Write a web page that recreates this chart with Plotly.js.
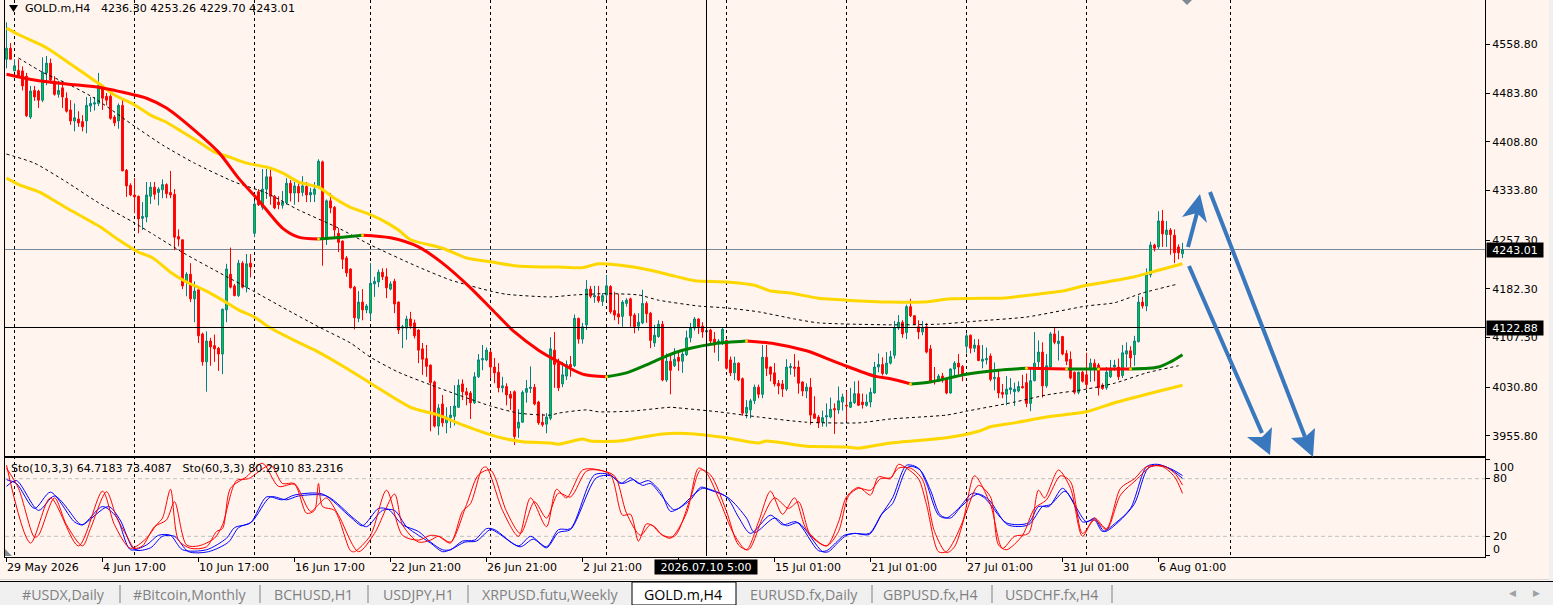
<!DOCTYPE html>
<html>
<head>
<meta charset="utf-8">
<script src="https://cdn.plot.ly/plotly-3.0.1.min.js"></script>
<style>
  html, body { margin: 0; padding: 0; background: #fff5ee; overflow: hidden; }
  #chart { width: 1553px; height: 605px; }
</style>
</head>
<body>
<div id="chart"></div>
<script>
const barOpen = [
  4536,4553,4518,4519,4518,4510,4447,4488,4487,4473,
  4515,4530,4502,4482,4492,4476,4458,4441,4444,4440,
  4441,4464,4467,4468,4495,4479,4479,4447,4441,4465,
  4365,4342,4327,4325,4291,4293,4325,4339,4331,4335,
  4343,4331,4328,4263,4258,4193,4205,4167,4181,4113,
  4070,4102,4095,4091,4082,4150,4205,4187,4172,4222,
  4185,4222,4268,4332,4308,4336,4355,4325,4316,4311,
  4315,4345,4330,4340,4331,4340,4327,4328,4340,4378,
  4259,4318,4308,4268,4256,4230,4213,4185,4137,4162,
  4150,4145,4190,4193,4208,4201,4182,4194,4162,4122,
  4122,4136,4130,4119,4090,4075,4065,4039,3971,4005,
  3976,3984,3986,4000,4036,4024,4022,4007,4047,4073,
  4073,4085,4062,4054,4030,4032,4020,4024,3968,3977,
  4023,4029,4031,4008,3977,3974,3983,4088,4068,4036,
  4048,4066,4064,4137,4105,4127,4182,4170,4171,4163,
  4173,4186,4149,4144,4140,4160,4167,4142,4125,4130,
  4160,4145,4099,4109,4128,4042,4071,4064,4077,4071,
  4081,4107,4122,4136,4125,4116,4119,4105,4098,4099,
  4103,4073,4053,4068,4044,3991,3996,4010,4031,4020,
  4077,4062,4053,4037,4036,4028,4061,4062,4062,4039,
  4025,4031,3990,3985,3977,3985,3985,3998,3996,4008,
  4003,4000,4007,4021,4008,4003,4008,4022,4062,4066,
  4052,4068,4080,4122,4131,4115,4155,4141,4124,4116,
  4124,4090,4041,4040,4048,4044,4022,4059,4068,4063,
  4094,4111,4091,4095,4071,4073,4079,4044,4046,4023,
  4020,4027,4024,4025,4032,4038,4006,4041,4070,4085,
  4033,4062,4113,4098,4109,4083,4074,4054,4023,4054,
  4050,4060,4068,4065,4034,4030,4047,4062,4062,4049,
  4082,4087,4081,4101,4162,4156,4204,4250,4247,4287,
  4266,4273,4265,4247,4236.30
];
const barHigh = [
  4593,4561,4536,4536,4525,4515,4495,4495,4489,4539,
  4541,4537,4510,4503,4500,4485,4473,4468,4456,4450,
  4478,4478,4478,4515,4496,4484,4482,4450,4468,4476,
  4367,4345,4353,4326,4316,4347,4347,4347,4339,4351,
  4345,4364,4336,4274,4258,4208,4222,4194,4181,4115,
  4117,4107,4112,4093,4152,4221,4246,4190,4227,4225,
  4236,4236,4318,4336,4367,4367,4367,4327,4325,4333,
  4353,4350,4347,4345,4356,4347,4338,4347,4382,4380,
  4320,4330,4310,4276,4257,4233,4214,4187,4179,4182,
  4159,4222,4201,4212,4214,4214,4194,4198,4163,4127,
  4141,4147,4135,4120,4099,4096,4066,4041,4005,4019,
  4000,4002,4034,4043,4043,4030,4025,4054,4082,4096,
  4092,4088,4076,4068,4047,4037,4025,4026,3997,4026,
  4042,4063,4036,4010,3990,3991,4108,4116,4075,4070,
  4072,4079,4143,4138,4130,4196,4187,4187,4187,4176,
  4204,4188,4178,4175,4165,4168,4169,4145,4145,4181,
  4163,4147,4127,4134,4133,4083,4080,4091,4088,4085,
  4118,4130,4139,4137,4131,4122,4121,4116,4105,4122,
  4104,4078,4078,4069,4046,4011,4013,4035,4035,4096,
  4096,4063,4068,4042,4042,4074,4068,4082,4072,4040,
  4037,4045,4017,3988,3995,4006,4015,4006,4032,4021,
  4025,4030,4040,4041,4021,4020,4030,4070,4083,4077,
  4085,4087,4133,4142,4134,4158,4167,4142,4134,4133,
  4130,4096,4062,4051,4053,4045,4060,4071,4082,4065,
  4114,4112,4105,4105,4096,4092,4083,4069,4058,4036,
  4048,4045,4038,4040,4050,4052,4060,4116,4103,4100,
  4082,4116,4122,4118,4110,4088,4086,4055,4055,4056,
  4084,4075,4074,4068,4037,4062,4073,4073,4075,4096,
  4100,4094,4110,4172,4170,4214,4255,4252,4302,4304,
  4287,4276,4274,4251,4253.26
];
const barLow = [
  4522,4536,4518,4510,4488,4447,4444,4472,4461,4470,
  4496,4500,4480,4477,4461,4454,4435,4425,4432,4425,
  4422,4455,4457,4464,4458,4465,4443,4433,4429,4364,
  4324,4325,4299,4268,4273,4285,4313,4320,4311,4322,
  4322,4322,4242,4248,4182,4171,4162,4131,4099,4064,
  4024,4064,4070,4056,4051,4131,4183,4171,4170,4183,
  4177,4200,4262,4310,4304,4321,4312,4305,4305,4306,
  4312,4317,4312,4316,4325,4316,4316,4316,4336,4218,
  4250,4299,4262,4239,4213,4201,4183,4120,4131,4134,
  4145,4134,4170,4185,4196,4168,4180,4145,4113,4091,
  4104,4121,4106,4068,4050,4047,3963,3969,3957,3970,
  3960,3968,3972,3999,4011,4003,3982,4005,4045,4057,
  4071,4045,4037,4023,4023,4003,3996,3942,3953,3976,
  4007,4022,4003,3973,3970,3960,3980,4030,4025,4031,
  4042,4047,4062,4098,4098,4119,4168,4161,4161,4156,
  4165,4144,4134,4128,4124,4155,4124,4114,4118,4128,
  4130,4091,4093,4107,4040,4039,4020,4062,4056,4053,
  4079,4100,4118,4113,4107,4108,4096,4084,4071,4096,
  4058,4048,4042,4040,3987,3983,3983,4005,4014,4014,
  4048,4040,4032,4020,4016,4025,4050,4047,4021,4017,
  4014,3973,3982,3968,3970,3970,3983,3959,3990,3995,
  3979,3999,4005,4003,3998,4001,4000,4021,4054,4049,
  4050,4066,4075,4119,4107,4105,4139,4127,4105,4111,
  4083,4039,4035,4039,4038,4020,4021,4045,4047,4040,
  4083,4083,4085,4071,4060,4066,4040,4026,4014,4014,
  4003,4020,4002,4023,4029,4000,3994,4040,4060,4015,
  4030,4060,4097,4072,4080,4065,4043,4020,4020,4038,
  4028,4039,4040,4018,4027,4027,4045,4056,4042,4045,
  4062,4061,4064,4100,4152,4148,4200,4240,4244,4247,
  4247,4235,4222,4228,4229.70
];
const barClose = [
  4553,4536,4526,4510,4495,4449,4487,4478,4473,4516,
  4530,4504,4482,4488,4478,4456,4441,4446,4438,4432,
  4465,4468,4469,4496,4476,4473,4445,4438,4465,4364,
  4341,4327,4324,4290,4294,4327,4339,4328,4336,4343,
  4329,4327,4262,4259,4187,4205,4167,4179,4110,4070,
  4102,4093,4090,4082,4151,4213,4185,4172,4222,4185,
  4221,4216,4313,4312,4336,4355,4325,4307,4312,4316,
  4345,4330,4341,4330,4341,4327,4331,4336,4379,4259,
  4318,4307,4273,4254,4228,4207,4184,4138,4162,4150,
  4156,4191,4194,4208,4201,4184,4190,4159,4119,4124,
  4136,4125,4110,4088,4074,4063,4038,3971,3999,3976,
  3985,3988,4002,4034,4024,4019,4007,4047,4073,4075,
  4088,4062,4053,4030,4033,4019,4014,3955,3977,4023,
  4029,4031,4005,3976,3973,3985,4090,4066,4030,4050,
  4066,4062,4137,4105,4124,4182,4171,4172,4164,4172,
  4187,4147,4142,4139,4162,4165,4141,4124,4131,4160,
  4144,4103,4111,4128,4042,4071,4057,4074,4071,4082,
  4107,4122,4136,4124,4116,4118,4102,4096,4102,4120,
  4060,4053,4068,4042,3991,4000,4010,4031,4020,4077,
  4060,4051,4036,4033,4028,4062,4063,4060,4037,4025,
  4031,3988,3983,3976,3984,3987,3997,3996,4010,4016,
  4002,4008,4021,4003,4004,4008,4023,4062,4066,4052,
  4068,4078,4122,4131,4113,4155,4141,4128,4116,4122,
  4085,4040,4039,4048,4042,4022,4059,4068,4062,4051,
  4110,4091,4096,4072,4074,4075,4043,4046,4022,4020,
  4028,4030,4028,4032,4030,4006,4041,4068,4085,4033,
  4064,4113,4100,4102,4082,4071,4045,4023,4054,4040,
  4035,4068,4060,4030,4029,4054,4059,4065,4047,4084,
  4087,4076,4102,4162,4156,4205,4250,4245,4287,4267,
  4273,4266,4238,4238,4243.01
];

// envelope lines, x is the bar number
const upperBandBars = [0,3.4,8.4,11,15,19,23,27,32,36,40,44,48,52,56,60,65,69,73,78,82,86,90,94,98,101,109,115,121,127,136,138,144,148,153,161,167,172,180,187,191,196,203,210,221,229,236,245,249,256,264,270,275,282,288,294];
const upperBand = [4584,4573,4559,4550,4533,4516,4499,4481,4466,4450,4439,4424,4409,4393,4385,4376,4370,4361,4347,4339,4322,4308,4299,4288,4273,4258,4245,4230,4224,4218,4216,4216,4215,4221,4219,4211,4202,4195,4193,4188,4179,4176,4168,4165,4162,4162,4167,4168,4168,4173,4179,4188,4193,4201,4211,4221];
const lowerBandBars = [0,3.4,8,15,23.4,28,33,36.6,41,45,50,54,58,62,66,72.6,78,85,91,101,108,114,123,129,136,138,144,146,153,158,164,172,180,188,190,200,210,213,221,235,243,246,252,260,270,277,285,294];
const lowerBand = [4353,4342,4332,4307,4278,4258,4239,4230,4208,4193,4179,4165,4150,4139,4122,4101,4085,4060,4037,4000,3988,3973,3954,3947,3945,3943,3951,3948,3948,3953,3959,3959,3953,3945,3948,3940,3939,3937,3945,3953,3963,3970,3976,3985,3993,4007,4020,4034];
const upperDotBars = [3,9,15,22,32,39,47,57,65,73,83,91,103,111,121,125,136,142,150,158,163,173,180,188,197,203,221,233,243,255,270,277,284,293];
const upperDot = [4538,4516,4499,4476,4433,4404,4376,4347,4330,4304,4276,4250,4216,4196,4179,4174,4170,4173,4175,4173,4165,4156,4153,4147,4136,4130,4127,4128,4133,4139,4156,4161,4176,4190];
const lowerDotBars = [0,7,15,23,32,37,45,53,62,69,78,86,91,98,108,121,128,136,138,145,148,156,166,168,178,188,200,213,221,235,240,252,260,270,277,285,293];
const lowerDot = [4390,4376,4347,4315,4284,4265,4235,4208,4178,4154,4124,4099,4077,4054,4030,4002,3991,3988,3991,3996,3993,3994,4000,3999,3993,3985,3977,3976,3982,3988,3994,4008,4019,4028,4037,4053,4064];

// moving average, null splits the coloured stretches
const maRedBars = [0,7,15,23,32,35,40,46,53,58,63,69,73,78,null,89,96,103,109,116,121,127,133,138,144,150,null,185,192,200,208,217,221,226,null,255,265,null,273,281];
const maRed = [4513,4504,4498,4493,4481,4476,4461,4432,4393,4353,4319,4276,4262,4259,null,4265,4261,4247,4222,4184,4153,4116,4088,4070,4051,4047,null,4102,4098,4087,4068,4048,4044,4036,null,4060,4059,null,4059,4059];
const maGreenBars = [78,84,89,null,150,155,161,167,171,177,185,null,226,231,240,248,255,null,265,273,null,281,288,291,294];
const maGreen = [4259,4262,4265,null,4047,4053,4068,4084,4091,4098,4102,null,4036,4039,4051,4057,4060,null,4059,4059,null,4059,4062,4070,4081];
const maTurnBars = [78,89,150,185,226,255,265,273,281];
const maTurn = [4259,4265,4047,4102,4036,4060,4059,4059,4059];

// stochastic (10,3,3) main and signal
const stoFastMainBars = [0,6,11,18,24,27,31,35,37.5,39,41,43,46,50,52.5,54,56,60,64,68,72,75,77,78,79,82,86,87,91,95,99,103,106,108,111,114,116,119,120,124,128,131,135,137.5,140,144,147,151,154,156,158,160,162,163.5,166,170,173,175,178,182,185,188,191,194,197,200,205,208,210,213,216,218,221,223,225,228,230,233,235,239,242,246,249,252,255.5,258,259.5,263,266,269,272,275,278.5,282,285,289,292,294];
const stoFastMain = [94,13,60,10,67,32,7.5,18,32,39,69,16,7.5,9,25,28,70,82,96,72,74,44,47,75,51,47,5,4,21,68,21,16,21,20,13,46,54,91,92,47,20,60,30,69,60,89,90,84,42,43,15,33,30,23,18,44,91,86,60,21,6,35,67,43,60,27,10,35,61,71,63,82,80,95,91,80,53,4,4,35,83,53,7.5,20,23,68,60,89,70,20,39,28,70,80,92.5,92.5,82,64.72];
const stoFastSigBars = [0,3,7,8,12,15,19,21,25,27.5,30,32,34,37,40,42,45,48,52,54,57.5,60.5,66,69,72,76,78,80,83,88,92,97,99,103,106,108,111,115,118,121,125,128.5,132,135,138,141,145,148,152,155,158.5,161,164,167,171,173.5,176,180,183,185.5,189,192,195.5,198,201,205,208,210.5,213,216,218.5,221,223,226,229,232,235,237,240,243,246,248,250,254,257,260,263.5,266,269,272,275,278.5,282.5,286,289,292,294];
const stoFastSig = [91,70,19,21,60,32,10,28,66.5,40,21,7.5,10,30,37,56,11,10,18,32,78,80,94,75,75,46,53,60,42,4,23,64,32,14,16,20,14,53,84,89,46,23,56,39,65,61,88,89,83,44,21,32,21,20,60,89,84,46,11,6,39,60,49,56,21,10,25,62,70,68,80,81,91,91,79,25,3,9,46,73,61,11,6,21,49,58,83,77,23,37,27,63,79,92.5,93.5,86,73.41];
// stochastic (60,3,3) main and signal
const stoSlowMainBars = [0,2.5,7,11,17,19,24,27.5,31,35,38,41,44,50,55,57,61,65,69,72,79,86,89,93,95.5,99,103,106,109,111,114,117,120,122,128,131,135,138,141,147,151,153.5,156,158,160.5,163.5,166,168,171,173.5,175,180,183,186,191,194,197.5,203,205,208,209.4,212,215.7,218.6,221.5,225,228,230,233,235,238,241.6,244.5,250,255.5,258,260.6,264,266.4,269,272,274,277.3,281,285,287.7,290.6,294];
const stoSlowMain = [79,75,49,66,35,32,51,40,6,11,21,21,6,6,18,29,34,61,58,63,64,40,31,49,48,32,25,14,6,6,15,16,28,27,10,20,9,27,28,84,84,75,81,75,78,66.5,46,49,58,71,70,61,40,23,42,32,35,5,5,16,21,23,23,42,60,94,91,75,42,39,49,65,60,34,34,51,51,70,58,35,37,25,34,49,92.5,95,91,80.29];
const stoSlowSigBars = [0,2.5,8,12,18,19,25.5,28.4,32,36,39,42,45.5,50.5,55.5,58,61.3,66,70,73,80,87,90,94,97,100,103,106,109,111,114.6,117.5,121,123,128.4,131.7,135,138,141,147.5,151,154,156.7,159,161,164,166.7,168,171.7,174,176,180.5,185,187,192,195,198,204,205.5,208,210,212,215.7,219,221.5,225.5,228.4,231,233.5,236,238.7,242.8,245.6,250.3,255.5,259,261,264.6,267,270,272,274.5,278,282,285.4,288.3,291.7,294];
const stoSlowSig = [72,78,47,62,34,32,51,37,6,8,20,20,4,4,14,29,35,61,58,62,62,38,30,47,47,30,21,13,4,6,14,15,27,23,9,17,8,24,27,81,83,75,79,73,75,61,48,49,63,70,68,60,39,24,39,31,34,4,4,14,21,23,22,44,54,92.5,89,68,42,39,51,64,58,32,32,51,53,67,53,35,39,25,35,54,91,94,89,83.23];

const priceTicks = [4558.8,4483.8,4408.8,4333.8,4257.3,4182.3,4107.3,4030.8,3955.8];
const priceTickLabels = ['4558.80','4483.80','4408.80','4333.80','4257.30','4182.30','4107.30','4030.80','3955.80'];
const timeTicks = [0,24,48,72,96,120,144,168,192,216,240,264,288];
const timeLabels = ['29 May 2026','4 Jun 17:00','10 Jun 17:00','16 Jun 17:00','22 Jun 21:00','26 Jun 21:00','2 Jul 21:00','','15 Jul 01:00','21 Jul 01:00','27 Jul 01:00','31 Jul 01:00','6 Aug 01:00'];
const dayBreaks = [2,32,62,91,121,150,180,210,240,270,306];
const lastPrice = 4243.01;
const crossPrice = 4122.88;
const crossBar = 175;
const crossTime = '2026.07.10 5:00';
const stoLevels = [80,20];

const tabNames = ['#USDX,Daily','#Bitcoin,Monthly','BCHUSD,H1','USDJPY,H1','XRPUSD.futu,Weekly','GOLD.m,H4','EURUSD.fx,Daily','GBPUSD.fx,H4','USDCHF.fx,H4'];

const W = 1553;
const H = 605;
const px = (x) => x / W;
const py = (y) => 1 - y / H;
const uiFont = 'DejaVu Sans';

const barNumbers = barOpen.map((v, i) => i);

function linePx(x0, y0, x1, y1, color, width) {
  return {
    type: 'line', xref: 'paper', yref: 'paper', layer: 'above',
    x0: px(x0), y0: py(y0), x1: px(x1), y1: py(y1),
    line: { color, width },
  };
}

function polyPx(points, color) {
  const path = points.map((p, i) => `${i ? 'L' : 'M'}${px(p[0])},${py(p[1])}`).join(' ') + ' Z';
  return { type: 'path', xref: 'paper', yref: 'paper', layer: 'above', path, fillcolor: color, line: { width: 0 } };
}

function textPx(x, y, text, opts = {}) {
  return Object.assign({
    xref: 'paper', yref: 'paper', x: px(x), y: py(y), text, showarrow: false,
    xanchor: 'left', yanchor: 'middle', borderpad: 0,
    font: { family: uiFont, size: 11, color: '#000000' },
  }, opts);
}

function curve(x, y, color, width, dash, smoothing) {
  return {
    type: 'scatter', mode: 'lines', x, y, connectgaps: false,
    line: { color, width, dash: dash || 'solid', shape: 'spline', smoothing },
  };
}

function stoCurve(x, y, color) {
  return Object.assign(curve(x, y, color, 1, null, 0.8), { xaxis: 'x2', yaxis: 'y2' });
}

const traces = [
  {
    type: 'candlestick', x: barNumbers, open: barOpen, high: barHigh, low: barLow, close: barClose,
    xaxis: 'x', yaxis: 'y', whiskerwidth: 0, hoverinfo: 'skip',
    increasing: { line: { color: '#008080', width: 1 }, fillcolor: '#00d62e' },
    decreasing: { line: { color: '#ff0000', width: 1 }, fillcolor: '#ff0000' },
  },
  curve(upperDotBars, upperDot, '#000000', 1, '3px,3px', 0.6),
  curve(lowerDotBars, lowerDot, '#000000', 1, '3px,3px', 0.6),
  curve(upperBandBars, upperBand, '#ffd700', 3, null, 0.6),
  curve(lowerBandBars, lowerBand, '#ffd700', 3, null, 0.6),
  curve(maRedBars, maRed, '#ff0000', 3, null, 0.8),
  curve(maGreenBars, maGreen, '#008000', 3, null, 0.8),
  { type: 'scatter', mode: 'markers', x: maTurnBars, y: maTurn, marker: { color: '#ffd700', size: 3 } },
  stoCurve(stoSlowSigBars, stoSlowSig, '#0000ff'),
  stoCurve(stoSlowMainBars, stoSlowMain, '#0000ff'),
  stoCurve(stoFastSigBars, stoFastSig, '#ff0000'),
  stoCurve(stoFastMainBars, stoFastMain, '#ff0000'),
];

const shapes = [];

dayBreaks.forEach((bar) => {
  shapes.push({
    type: 'line', xref: 'x', yref: 'paper', layer: 'below', x0: bar, x1: bar, y0: py(0), y1: py(556),
    line: { color: '#000000', width: 1, dash: '3px,3px' },
  });
});
stoLevels.forEach((level) => {
  shapes.push({
    type: 'line', xref: 'paper', yref: 'y2', layer: 'below', x0: px(5), x1: px(1485), y0: level, y1: level,
    line: { color: '#c0c0c0', width: 1, dash: '4px,3px' },
  });
});
shapes.push({
  type: 'line', xref: 'paper', yref: 'y', layer: 'below', x0: px(5), x1: px(1485), y0: lastPrice, y1: lastPrice,
  line: { color: '#778899', width: 1 },
});
shapes.push({
  type: 'line', xref: 'paper', yref: 'y', layer: 'above', x0: px(5), x1: px(1485), y0: crossPrice, y1: crossPrice,
  line: { color: '#000000', width: 1 },
});
shapes.push({
  type: 'line', xref: 'x', yref: 'paper', layer: 'above', x0: crossBar, x1: crossBar, y0: py(0), y1: py(556),
  line: { color: '#000000', width: 1 },
});

// hand drawn arrows
const arrowBlue = '#3a78be';
shapes.push(linePx(1188, 247, 1197, 213, arrowBlue, 4));
shapes.push(polyPx([[1200, 194], [1182, 217], [1197, 213], [1207, 223]], arrowBlue));
shapes.push(linePx(1189, 266, 1262, 433, arrowBlue, 4));
shapes.push(polyPx([[1270, 455], [1247, 437], [1262, 437], [1272, 427]], arrowBlue));
shapes.push(linePx(1210, 192, 1305, 437, arrowBlue, 4));
shapes.push(polyPx([[1313, 457], [1291, 438], [1305, 437], [1315, 428]], arrowBlue));

// small chart markers
shapes.push(polyPx([[1182, 0], [1192, 0], [1187, 5]], '#808a94'));
shapes.push(polyPx([[5, 549], [5, 556], [12, 556]], '#808a94'));
shapes.push(polyPx([[9, 5], [18, 5], [13.5, 12]], '#000000'));

// tab strip
shapes.push({ type: 'rect', xref: 'paper', yref: 'paper', layer: 'above', x0: 0, x1: 1, y0: py(605), y1: py(582), fillcolor: '#f0f0f0', line: { width: 0 } });
shapes.push(linePx(0, 581.5, 1553, 581.5, '#000000', 1));
shapes.push(linePx(0, 579.5, 1553, 579.5, '#d8d8d8', 1));
[120, 260, 368, 468, 872, 992, 1112].forEach((x) => {
  shapes.push(linePx(x, 585, x, 603, '#808080', 1));
});
shapes.push({ type: 'rect', xref: 'paper', yref: 'paper', layer: 'above', x0: px(632), x1: px(736), y0: py(605), y1: py(582), fillcolor: '#ffffff', line: { color: '#000000', width: 1 } });
shapes.push({ type: 'rect', xref: 'paper', yref: 'paper', layer: 'above', x0: px(1549), x1: px(1553), y0: py(581), y1: py(0), fillcolor: '#f0f0f0', line: { width: 0 } });

const annotations = [];

annotations.push(textPx(24, 8, 'GOLD.m,H4\u00a0\u00a0 4236.30 4253.26 4229.70 4243.01', { font: { family: uiFont, size: 11.1, color: '#000000' } }));
annotations.push(textPx(10, 468, 'Sto(10,3,3) 64.7183 73.4087\u00a0\u00a0 Sto(60,3,3) 80.2910 83.2316', { font: { family: uiFont, size: 11.1, color: '#000000' } }));

timeTicks.forEach((bar, i) => {
  if (!timeLabels[i]) return;
  annotations.push({
    xref: 'x2', yref: 'paper', x: bar, y: py(567), text: timeLabels[i], showarrow: false,
    xanchor: 'left', yanchor: 'middle', xshift: -1, borderpad: 0,
    font: { family: uiFont, size: 11, color: '#000000' },
  });
});

annotations.push(textPx(1492, 467, '100'));
annotations.push(textPx(1492, 478, '80'));
annotations.push(textPx(1492, 536, '20'));
annotations.push(textPx(1492, 549, '0'));

// price and time flags on the axes
const flagFont = { family: uiFont, size: 11, color: '#ffffff' };
annotations.push({
  xref: 'paper', yref: 'y', x: px(1515), y: lastPrice, text: lastPrice.toFixed(2), showarrow: false, bgcolor: '#000000',
  xanchor: 'center', yanchor: 'middle', borderpad: 0, width: 56, height: 14, font: flagFont,
});
annotations.push({
  xref: 'paper', yref: 'y', x: px(1515), y: crossPrice, text: crossPrice.toFixed(2), showarrow: false, bgcolor: '#000000',
  xanchor: 'center', yanchor: 'middle', borderpad: 0, width: 56, height: 14, font: flagFont,
});
annotations.push(textPx(706, 567, crossTime, {
  xanchor: 'center', bgcolor: '#000000', width: 102, height: 14, font: flagFont,
}));

const tabCentres = [63.5, 190, 313, 418, 550, 683, 804, 931, 1051];
tabNames.forEach((name, i) => {
  annotations.push(textPx(tabCentres[i], 594, name, {
    xanchor: 'center',
    font: { family: 'Open Sans', size: 14.2, color: name === 'GOLD.m,H4' ? '#000000' : '#808080' },
  }));
});
annotations.push(textPx(1512, 593, '◀', { xanchor: 'center', font: { family: uiFont, size: 9, color: '#a0a0a0' } }));
annotations.push(textPx(1536, 593, '▶', { xanchor: 'center', font: { family: uiFont, size: 9, color: '#a0a0a0' } }));

const xRange = [(5 - 6.5) / 4, (1485 - 6.5) / 4];
const axisLine = { showline: true, linecolor: '#000000', linewidth: 1, mirror: true, showgrid: false, zeroline: false };

const layout = {
  width: W,
  height: H,
  margin: { l: 0, r: 0, t: 0, b: 0 },
  paper_bgcolor: '#fff5ee',
  plot_bgcolor: 'rgba(0,0,0,0)',
  showlegend: false,
  boxgap: 0.35,
  hovermode: false,
  xaxis: Object.assign({}, axisLine, {
    domain: [px(5), px(1485)], range: xRange, anchor: 'y', showticklabels: false, ticks: '',
    rangeslider: { visible: false },
  }),
  yaxis: Object.assign({}, axisLine, {
    domain: [py(455.5), py(0)], range: [4627.3 - 1.5402 * 455.5, 4627.3], anchor: 'x', side: 'right',
    tickmode: 'array', tickvals: priceTicks, ticktext: priceTickLabels, ticks: 'outside', ticklen: 4, tickcolor: '#000000',
    tickfont: { family: uiFont, size: 11, color: '#000000' },
  }),
  xaxis2: Object.assign({}, axisLine, {
    domain: [px(5), px(1485)], range: xRange, anchor: 'y2', matches: 'x', showticklabels: false,
    tickmode: 'array', tickvals: timeTicks, ticks: 'outside', ticklen: 4, tickcolor: '#000000',
  }),
  yaxis2: Object.assign({}, axisLine, {
    domain: [py(556.5), py(457.5)], range: [(555.5 - 556.5) / 0.96, (555.5 - 457.5) / 0.96], anchor: 'x2', side: 'right',
    tickmode: 'array', tickvals: [100, 80, 20, 0], showticklabels: false, ticks: 'outside', ticklen: 4, tickcolor: '#000000',
  }),
  shapes,
  annotations,
};

Plotly.newPlot('chart', traces, layout, { displayModeBar: false, staticPlot: true });
</script>
</body>
</html>
